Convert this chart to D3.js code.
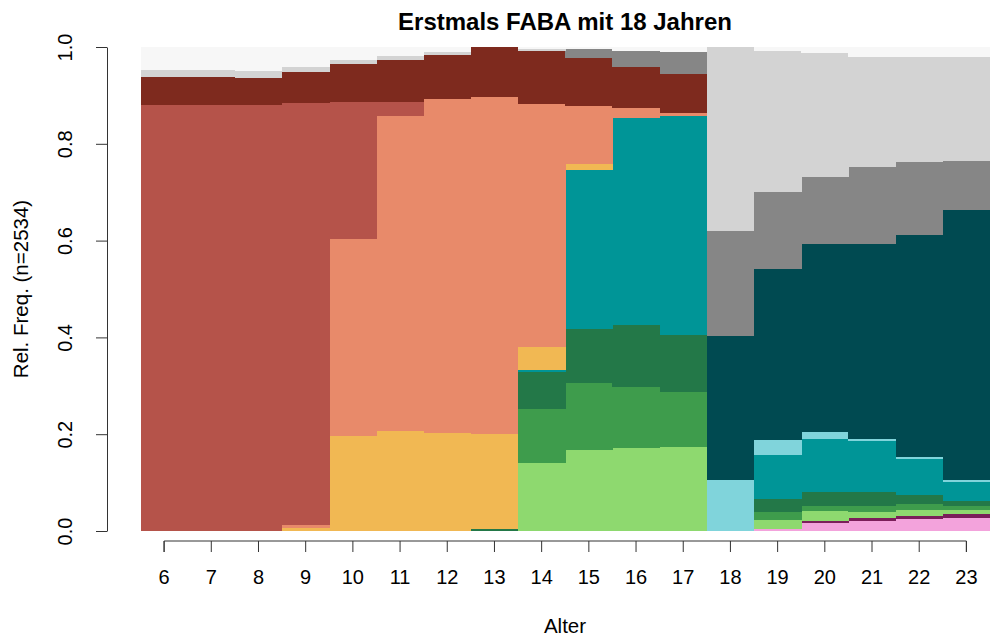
<!DOCTYPE html>
<html><head><meta charset="utf-8">
<script src="https://cdn.jsdelivr.net/npm/d3@7"></script>
<style>body{margin:0;background:#fff}svg{display:block}text{font-family:"Liberation Sans",Arial,sans-serif}</style>
</head><body>
<svg id="c" width="994" height="637"></svg>
<script>
const ages = ["6","7","8","9","10","11","12","13","14","15","16","17","18","19","20","21","22","23"];
const yTicks = [0, 0.2, 0.4, 0.6, 0.8, 1.0];
// states from bottom to top
const states = ["S01","S02","S03","S04","S05","S06","S07","S08","S09","S10","S11","S12","S13","S14","S15"];
const stateColors = ["#F3A3DC","#7B1E5A","#8ED96F","#3E9C4C","#237848","#009597","#80D4DB","#004A51","#F1B853","#E88A6A","#B5534A","#7E2A1E","#868686","#D3D3D3","#F7F7F7"];
// relative frequencies per state, one value per age
const S01 = [0,0,0,0,0,0,0,0,0,0,0,0,0,0.004,0.016,0.021,0.024,0.026];
const S02 = [0,0,0,0,0,0,0,0,0,0,0,0,0,0,0.005,0.0065,0.008,0.009];
const S03 = [0,0,0,0,0,0,0,0,0.140,0.167,0.171,0.174,0,0.019,0.021,0.0115,0.011,0.008];
const S04 = [0,0,0,0,0,0,0,0,0.112,0.138,0.127,0.114,0,0.017,0.010,0.012,0.013,0.009];
const S05 = [0,0,0,0,0,0,0,0.005,0.077,0.112,0.128,0.117,0,0.0255,0.029,0.030,0.018,0.011];
const S06 = [0,0,0,0,0,0,0,0,0.004,0.329,0.427,0.453,0,0.0915,0.109,0.105,0.074,0.038];
const S07 = [0,0,0,0,0,0,0,0,0,0,0,0,0.105,0.032,0.014,0.005,0.0055,0.004];
const S08 = [0,0,0,0,0,0,0,0,0,0,0,0,0.2985,0.352,0.390,0.402,0.4575,0.558];
const S09 = [0,0,0,0.0055,0.196,0.207,0.203,0.195,0.047,0.012,0,0,0,0,0,0,0,0];
const S10 = [0,0,0,0.007,0.407,0.650,0.689,0.697,0.502,0.120,0.020,0.006,0,0,0,0,0,0];
const S11 = [0.880,0.880,0.880,0.8725,0.284,0.029,0.001,0,0,0,0,0,0,0,0,0,0,0];
const S12 = [0.057,0.057,0.056,0.064,0.078,0.087,0.090,0.103,0.110,0.099,0.086,0.080,0,0,0,0,0,0];
const S13 = [0,0,0,0,0,0,0,0,0,0.018,0.033,0.046,0.2165,0.160,0.138,0.160,0.152,0.102];
const S14 = [0.015,0.015,0.015,0.0105,0.008,0.008,0.007,0,0.003,0,0,0,0.380,0.291,0.255,0.226,0.216,0.214];
const S15 = [0.048,0.048,0.049,0.0405,0.027,0.019,0.010,0,0.005,0.005,0.008,0.010,0,0.008,0.013,0.021,0.021,0.021];
const series = [S01,S02,S03,S04,S05,S06,S07,S08,S09,S10,S11,S12,S13,S14,S15];

const rows = ages.map((a,i)=>{const r={age:a}; states.forEach((s,k)=>r[s]=series[k][i]); return r;});
const stack = d3.stack().keys(states)(rows);

const svg = d3.select("#c");
const x = d3.scaleBand().domain(ages).range([140.5, 990]).padding(0);
const y = d3.scaleLinear().domain([0,1]).range([531, 47]);
const color = d3.scaleOrdinal().domain(states).range(stateColors);

svg.append("g").selectAll("g").data(stack).join("g")
  .attr("fill", d=>color(d.key))
  .selectAll("rect").data(d=>d).join("rect")
  .attr("x", d=>x(d.data.age))
  .attr("width", x.bandwidth()+0.4)
  .attr("y", d=>y(d[1]))
  .attr("height", d=>Math.max(0, y(d[0])-y(d[1])))
  .attr("shape-rendering","crispEdges");

// y axis
const ya = svg.append("g").attr("transform","translate(107,0)")
  .call(d3.axisLeft(y).tickValues(yTicks).tickFormat(d3.format(".1f")).tickSize(11).tickSizeOuter(0));
ya.select(".domain").attr("stroke","#333");
ya.selectAll(".tick line").attr("stroke","#333");
ya.selectAll(".tick text").attr("font-size",20).attr("fill","#000")
  .attr("transform","rotate(-90)").attr("text-anchor","middle")
  .attr("x",0).attr("dy",0).attr("y",-35)
  .attr("font-family","'Liberation Sans',Arial,sans-serif");

// x axis
const xa = svg.append("g").attr("transform","translate(0,541)")
  .call(d3.axisBottom(x).tickSize(11).tickSizeOuter(0));
xa.select(".domain").attr("d", `M${x(ages[0])+x.bandwidth()/2},11V0H${x(ages[ages.length-1])+x.bandwidth()/2}V11`).attr("stroke","#333");
xa.selectAll(".tick line").attr("stroke","#333");
xa.selectAll(".tick text").attr("font-size",20).attr("fill","#000").attr("y",29)
  .attr("font-family","'Liberation Sans',Arial,sans-serif");

svg.append("text").attr("x",565).attr("y",633).attr("text-anchor","middle")
  .attr("font-size",20.5).text("Alter");
svg.append("text").attr("transform","translate(28,289) rotate(-90)").attr("text-anchor","middle")
  .attr("font-size",20.5).text("Rel. Freq. (n=2534)");
svg.append("text").attr("x",565).attr("y",30).attr("text-anchor","middle")
  .attr("font-size",24).attr("font-weight","bold").text("Erstmals FABA mit 18 Jahren");
</script>
</body></html>
